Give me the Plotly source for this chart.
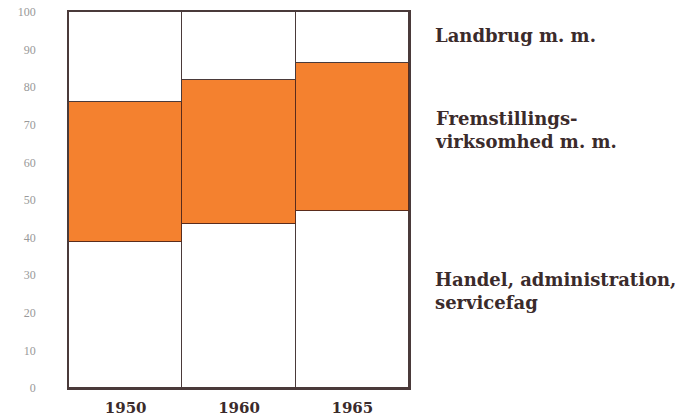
import plotly.graph_objects as go

years = ["1950", "1960", "1965"]
handel = [38.7, 43.5, 47.1]
fremstilling = [37.3, 38.4, 39.4]
landbrug = [24.0, 18.1, 13.5]
y_ticks = [0, 10, 20, 30, 40, 50, 60, 70, 80, 90, 100]
labels = ["Landbrug m. m.", "Fremstillings-<br>virksomhed m. m.", "Handel, administration,<br>servicefag"]

edge = "#4a3a3a"
fig = go.Figure()
fig.add_bar(x=years, y=handel, marker=dict(color="white", line=dict(color=edge, width=1.5)))
fig.add_bar(x=years, y=fremstilling, marker=dict(color="#F4812F", line=dict(color="#5a2c1c", width=1.5)))
fig.add_bar(x=years, y=landbrug, marker=dict(color="white", line=dict(color=edge, width=1.5)))

font_serif = "DejaVu Serif"
fig.update_layout(
    barmode="stack", bargap=0, showlegend=False,
    width=680, height=420,
    margin=dict(l=69, r=271, t=12, b=32, autoexpand=False),
    paper_bgcolor="white", plot_bgcolor="white",
    xaxis=dict(showgrid=False, zeroline=False, showline=True, mirror=True, linecolor=edge, linewidth=1.5,
               ticks="outside", ticklen=5, automargin=False,
               tickcolor="rgba(0,0,0,0)",
               tickfont=dict(family=font_serif, size=15, color="#3b2b2b", weight="bold")),
    yaxis=dict(range=[0, 100], tickvals=y_ticks, showgrid=False, zeroline=False,
               showline=True, mirror=True, linecolor=edge, linewidth=1.5, automargin=False,
               ticks="outside", ticklen=29, tickcolor="rgba(0,0,0,0)",
               tickfont=dict(family="Liberation Serif", size=12, color="#999999")),
)

ann_y = [36, 130, 291]
for txt, yy in zip(labels, ann_y):
    fig.add_annotation(text=txt, xref="paper", yref="paper", x=(433 - 69) / 340, xanchor="left",
                       y=(420 - 32 - yy) / (420 - 44), yanchor="middle", showarrow=False, align="left",
                       font=dict(family=font_serif, size=18, color="#3b2b2b", weight="bold"))

fig.write_html("out.html", config={"displayModeBar": False},
               post_script="document.body.style.margin='0';")
